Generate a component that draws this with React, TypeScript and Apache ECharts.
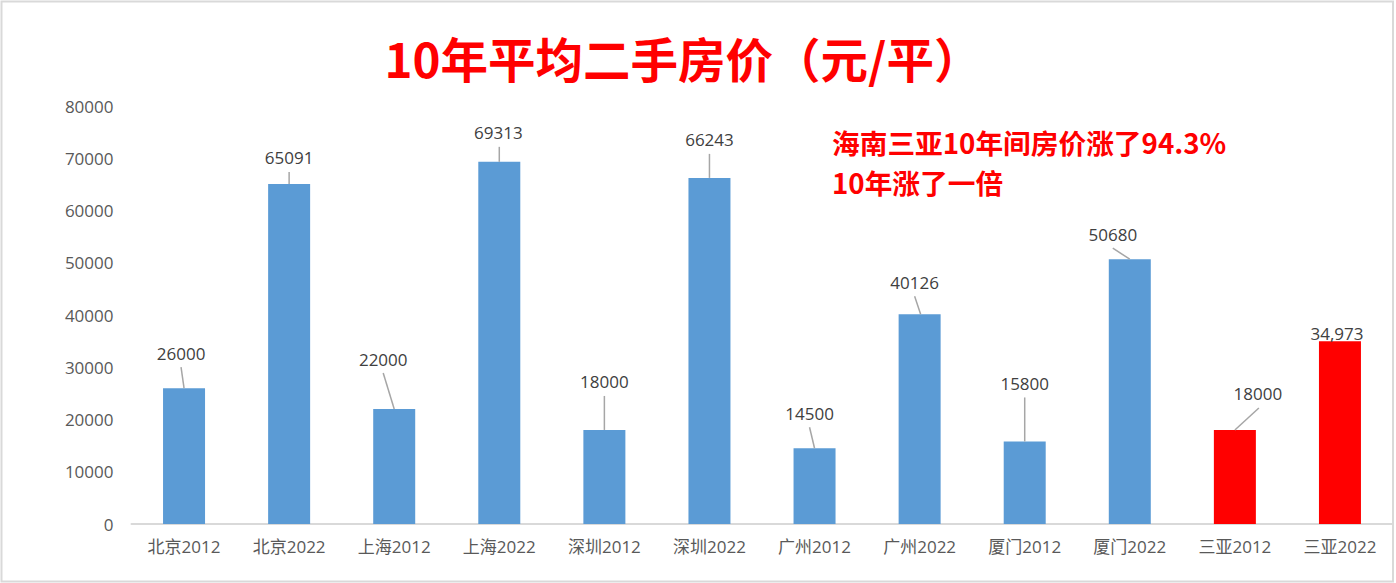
import React, { useEffect, useRef } from "react";
import * as echarts from "echarts";

const categories = ["北京2012", "北京2022", "上海2012", "上海2022", "深圳2012", "深圳2022", "广州2012", "广州2022", "厦门2012", "厦门2022", "三亚2012", "三亚2022"];
const prices = [26000, 65091, 22000, 69313, 18000, 66243, 14500, 40126, 15800, 50680, 18000, 34973];
const barColors = ["#5B9BD5", "#5B9BD5", "#5B9BD5", "#5B9BD5", "#5B9BD5", "#5B9BD5", "#5B9BD5", "#5B9BD5", "#5B9BD5", "#5B9BD5", "#FF0000", "#FF0000"];
const labelTexts = ["26000", "65091", "22000", "69313", "18000", "66243", "14500", "40126", "15800", "50680", "18000", "34,973"];
const yTicks = [0, 10000, 20000, 30000, 40000, 50000, 60000, 70000, 80000];
const titleText = "10年平均二手房价（元/平）";
const noteLines = ["海南三亚10年间房价涨了94.3%", "10年涨了一倍"];

// label offsets (relative to bar top centre) and leader line starts
const labelOffsets: [number, number][] = [
  [-3, -35], [0, -26], [-11, -50], [-1, -29], [0, -48], [0, -38],
  [-5, -35], [-5, -32], [0, -58], [-17, -25], [23, -36], [-3, -8],
];
const leaderLines: ([number, number, number] | null)[] = [
  [-3, -21, 0], [0, -12, 0], [-11, -36, 0], [0, -15, 0], [0, -34, 0], [0, -24, 0],
  [-5, -21, 0], [-5, -18, 1], [0, -44, 0], [-17, -11, 0], [24, -22, 0], null,
];

const FONT = "'Open Sans', 'Noto Sans CJK SC', sans-serif";
const CJK_BOLD = "'Noto Sans CJK SC', sans-serif";

export default function App() {
  const ref = useRef<HTMLDivElement>(null);
  useEffect(() => {
    if (!ref.current) return;
    const chart = echarts.init(ref.current, undefined, { renderer: "svg" });
    chart.setOption({
      animation: false,
      backgroundColor: "#ffffff",
      grid: { left: 131.5, right: 3.5, top: 106, bottom: 59, containLabel: false },
      xAxis: {
        type: "category",
        data: categories,
        axisLine: { show: true, lineStyle: { color: "#d9d9d9", width: 2 } },
        axisTick: { show: false },
        axisLabel: { color: "#595959", fontSize: 17, fontFamily: FONT, margin: 14, interval: 0 },
      },
      yAxis: {
        type: "value",
        min: 0,
        max: 80000,
        interval: 10000,
        axisLine: { show: false },
        axisTick: { show: false },
        splitLine: { show: false },
        axisLabel: {
          color: "#595959",
          fontSize: 17,
          fontFamily: FONT,
          margin: 18,
          formatter: (v: number) => (yTicks.indexOf(v) >= 0 ? String(v) : ""),
        },
      },
      series: [
        {
          type: "bar",
          barWidth: 42,
          data: prices.map((v, i) => ({ value: v, itemStyle: { color: barColors[i] } })),
          label: {
            show: true,
            position: "top",
            color: "#404040",
            fontSize: 17,
            fontFamily: FONT,
            formatter: (p: any) => labelTexts[p.dataIndex],
          },
          labelLayout: (p: any) => {
            const off = labelOffsets[p.dataIndex];
            return {
              x: p.rect.x + p.rect.width / 2 + off[0],
              y: p.rect.y + off[1],
              align: "center",
              verticalAlign: "middle",
            };
          },
        },
        {
          type: "custom",
          silent: true,
          z: 3,
          data: prices.map((v, i) => [i, v]),
          renderItem: (params: any, api: any) => {
            const ln = leaderLines[params.dataIndex];
            if (!ln) return null;
            const pt = api.coord([api.value(0), api.value(1)]);
            return {
              type: "line",
              shape: { x1: pt[0] + ln[0], y1: pt[1] + ln[1], x2: pt[0] + ln[2], y2: pt[1] },
              style: { stroke: "#a6a6a6", lineWidth: 1.5 },
            };
          },
        },
      ],
      graphic: [
        {
          type: "rect",
          shape: { x: 1.5, y: 1.5, width: 1391.5, height: 580 },
          style: { fill: "none", stroke: "#d9d9d9", lineWidth: 2 },
          silent: true,
        },
        {
          type: "text",
          x: 683,
          y: 57,
          style: {
            text: titleText,
            fill: "#FF0000",
            font: `bold 47.5px ${CJK_BOLD}`,
            textAlign: "center",
            textVerticalAlign: "middle",
          },
        },
        {
          type: "text",
          x: 832,
          y: 142,
          style: {
            text: noteLines[0],
            fill: "#FF0000",
            font: `bold 27.7px ${CJK_BOLD}`,
            textAlign: "left",
            textVerticalAlign: "middle",
          },
        },
        {
          type: "text",
          x: 832,
          y: 182,
          style: {
            text: noteLines[1],
            fill: "#FF0000",
            font: `bold 27.7px ${CJK_BOLD}`,
            textAlign: "left",
            textVerticalAlign: "middle",
          },
        },
      ],
    });
    return () => chart.dispose();
  }, []);
  return (
    <div
      ref={ref}
      style={{ position: "fixed", left: 0, top: 0, width: 1396, height: 583, background: "#fff" }}
    />
  );
}
